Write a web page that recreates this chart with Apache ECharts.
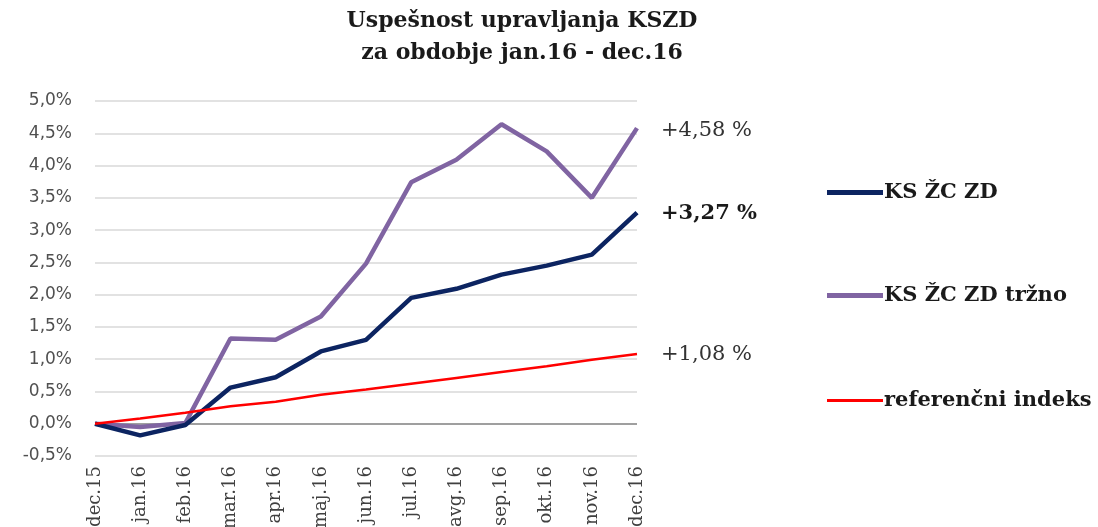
<!DOCTYPE html>
<html><head><meta charset="utf-8">
<script src="https://cdn.jsdelivr.net/npm/echarts@6/dist/echarts.min.js"></script>
<style>html,body{margin:0;padding:0;background:#fff}#c{width:1098px;height:527px}</style>
</head><body><div id="c"></div>
<script>
const categories = ['dec.15','jan.16','feb.16','mar.16','apr.16','maj.16','jun.16','jul.16','avg.16','sep.16','okt.16','nov.16','dec.16'];
const ksZcZd = [0, -0.18, -0.02, 0.56, 0.72, 1.12, 1.30, 1.95, 2.09, 2.31, 2.45, 2.62, 3.27];
const ksZcZdTrzno = [0, -0.05, 0.01, 1.32, 1.30, 1.66, 2.48, 3.74, 4.09, 4.64, 4.22, 3.50, 4.58];
const referencni = [0, 0.08, 0.17, 0.27, 0.34, 0.45, 0.53, 0.62, 0.71, 0.80, 0.89, 0.99, 1.08];
const seriesNames = ['KS ŽC ZD', 'KS ŽC ZD tržno', 'referenčni indeks'];
const endLabels = ['+3,27 %', '+4,58 %', '+1,08 %'];
const titleLines = 'Uspešnost upravljanja KSZD\nza obdobje jan.16 - dec.16';

const serif = '"DejaVu Serif", "Liberation Serif", serif';
const gridColors = [];
for (let i = 0; i < 12; i++) gridColors.push(i === 1 ? '#7f7f7f' : '#d9d9d9');
const legendText = { fontFamily: serif, fontWeight: 'bold', fontSize: 21, color: '#1a1a1a', padding: [0, 0, 0, -4] };

const chart = echarts.init(document.getElementById('c'));
chart.setOption({
  animation: false,
  title: {
    text: titleLines, left: 517, top: 0, textAlign: 'center',
    textStyle: { fontFamily: serif, fontWeight: 'bold', fontSize: 22, lineHeight: 32, color: '#1a1a1a' }
  },
  legend: [
    { orient: 'vertical', left: 822, top: 177, itemWidth: 56, itemHeight: 5, itemGap: 82, icon: 'rect',
      data: seriesNames.slice(0, 2), textStyle: legendText },
    { orient: 'vertical', left: 822, top: 385, itemWidth: 56, itemHeight: 3, icon: 'rect',
      data: seriesNames.slice(2), textStyle: legendText }
  ],
  grid: { left: 95, right: 461, top: 101, bottom: 71, containLabel: false, outerBoundsMode: 'none' },
  xAxis: {
    type: 'category', data: categories, boundaryGap: false,
    axisLine: { show: false, onZero: false }, axisTick: { show: false },
    axisLabel: { rotate: 90, margin: 10, fontFamily: serif, fontSize: 18, color: '#404040', interval: 0 }
  },
  yAxis: {
    type: 'value', min: -0.5, max: 5, interval: 0.5,
    axisLine: { show: false }, axisTick: { show: false },
    axisLabel: { margin: 23, fontFamily: '"DejaVu Sans", sans-serif', fontSize: 17, color: '#505050',
      formatter: v => v.toFixed(1).replace('.', ',') + '%' },
    splitLine: { lineStyle: { color: gridColors, width: 1.5 } }
  },
  series: [
    { name: seriesNames[0], type: 'line', data: ksZcZd, symbol: 'none', z: 3,
      lineStyle: { color: '#0c2461', width: 4.5 }, itemStyle: { color: '#0c2461' },
      endLabel: { show: true, formatter: endLabels[0], offset: [16, 1], fontFamily: serif, fontSize: 21, fontWeight: 'bold', color: '#1a1a1a' } },
    { name: seriesNames[1], type: 'line', data: ksZcZdTrzno, symbol: 'none', z: 2,
      lineStyle: { color: '#8064a2', width: 4.5 }, itemStyle: { color: '#8064a2' },
      endLabel: { show: true, formatter: endLabels[1], offset: [16, 2], fontFamily: serif, fontSize: 21, color: '#333' } },
    { name: seriesNames[2], type: 'line', data: referencni, symbol: 'none', z: 4,
      lineStyle: { color: '#ff0000', width: 2.5 }, itemStyle: { color: '#ff0000' },
      endLabel: { show: true, formatter: endLabels[2], offset: [16, 1], fontFamily: serif, fontSize: 21, color: '#333' } }
  ]
});
</script></body></html>
